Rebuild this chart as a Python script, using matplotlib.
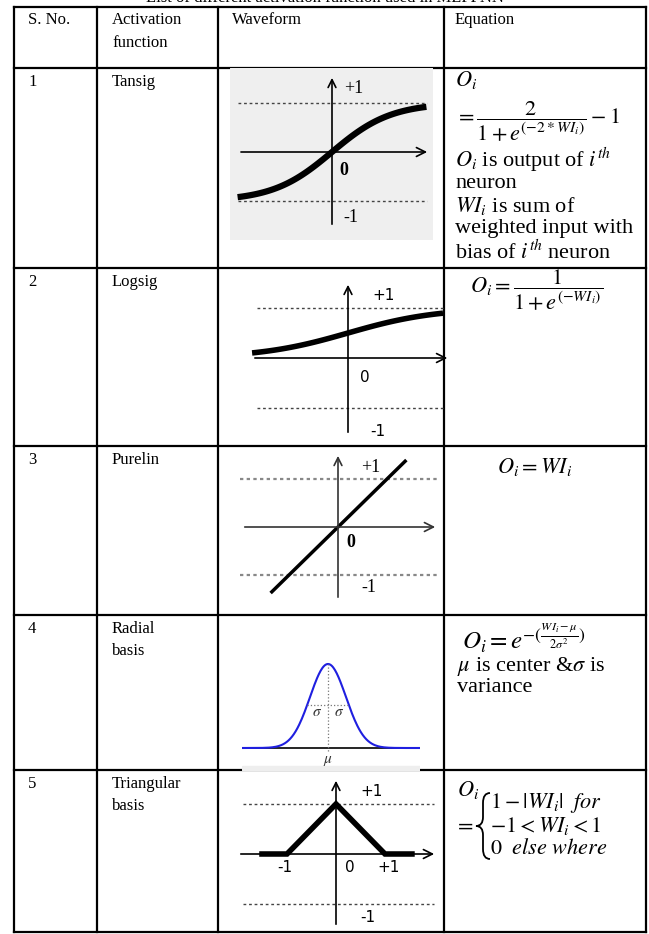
import numpy as np
import matplotlib
matplotlib.use("Agg")
import matplotlib.pyplot as plt
from matplotlib.patches import Rectangle, PathPatch
from matplotlib.path import Path

plt.rcParams['font.family'] = ['Liberation Serif', 'DejaVu Serif']
plt.rcParams['mathtext.fontset'] = 'stix'

W, H = 649, 934

## table content
title = "List of different activation function used in MLPFNN"
headers = ["S. No.", "Activation\nfunction", "Waveform", "Equation"]
serial = ["1", "2", "3", "4", "5"]
names = ["Tansig", "Logsig", "Purelin", "Radial\nbasis", "Triangular\nbasis"]

# grid (pixel positions)
col_x = [14, 97, 218, 444, 646]
row_y = [7, 68, 268, 446, 615, 770, 932]

# curve samples (x in function units) for each waveform
x_tansig = np.linspace(-1.6, 1.6, 80)
x_logsig = np.linspace(-2.18, 2.16, 80)
x_purelin = np.array([-1.35, 1.37])
x_radial = np.linspace(-4.78, 5.11, 200)
x_tri = np.array([-1.51, -1.0, 0.0, 1.0, 1.55])

fig = plt.figure(figsize=(W / 100, H / 100), dpi=100)
ax = fig.add_axes([0, 0, 1, 1])
ax.set_xlim(0, W)
ax.set_ylim(H, 0)
ax.axis('off')

FS = 12

# title, half cut off by the top edge
ax.text(W / 2, -2, title, ha='center', va='center', fontsize=FS, clip_on=False)

# grid lines
for x in col_x:
    ax.plot([x, x], [row_y[0], row_y[-1]], color='k', lw=1.6)
for y in row_y:
    ax.plot([col_x[0], col_x[-1]], [y, y], color='k', lw=1.6)

# header and first two columns
ax.text(28, 12, headers[0], fontsize=FS, va='top')
ax.text(112, 12, headers[1], fontsize=FS, va='top', linespacing=1.6)
ax.text(232, 12, headers[2], fontsize=FS, va='top')
ax.text(455, 12, headers[3], fontsize=FS, va='top')
for i in range(5):
    ax.text(28, row_y[i + 1] + 6, serial[i], fontsize=FS, va='top')
    ax.text(112, row_y[i + 1] + 6, names[i], fontsize=FS, va='top', linespacing=1.5)


def wave_ax(box, origin, sx, sy, face=None):
    x0, y0, x1, y1 = box
    ox, oy = origin
    a = fig.add_axes([x0 / W, 1 - y1 / H, (x1 - x0) / W, (y1 - y0) / H])
    a.set_xlim((x0 - ox) / sx, (x1 - ox) / sx)
    a.set_ylim((oy - y1) / sy, (oy - y0) / sy)
    a.set_axis_off()
    if face:
        a.add_patch(Rectangle((0, 0), 1, 1, transform=a.transAxes, color=face, zorder=0))
    return a


def axes_arrows(a, xl, xr, yb, yt, lw=1.2, color='k'):
    a.annotate('', xy=(xr, 0), xytext=(xl, 0),
               arrowprops=dict(arrowstyle='->', lw=lw, color=color, mutation_scale=16))
    a.annotate('', xy=(0, yt), xytext=(0, yb),
               arrowprops=dict(arrowstyle='->', lw=lw, color=color, mutation_scale=14))


LFS = 13
SFS = 11

# 1 tansig
a = wave_ax((230, 68, 433, 240), (332, 152), 59, 49, face='#efefef')
for lvl in (1, -1):
    a.plot([-1.59, 1.61], [lvl, lvl], ls=(0, (2, 2)), color='#444444', lw=1)
axes_arrows(a, -1.59, 1.66, -1.53, 1.57)
a.plot(x_tansig, np.tanh(x_tansig), color='k', lw=4.5, solid_capstyle='butt')
a.text(0.2, 1.3, "+1", fontsize=LFS, va='center')
a.text(0.12, -0.37, "0", fontsize=LFS, va='center', fontweight='bold')
a.text(0.2, -1.33, "-1", fontsize=LFS, va='center')

# 2 logsig
a = wave_ax((250, 272, 452, 442), (348, 358), 44, 50)
for lvl in (1, -1):
    a.plot([-2.07, 2.16], [lvl, lvl], ls=(0, (2, 2)), color='#444444', lw=1)
axes_arrows(a, -2.18, 2.32, -1.54, 1.52)
a.plot(x_logsig, 1 / (1 + np.exp(-x_logsig)), color='k', lw=4, solid_capstyle='butt')
a.text(0.55, 1.26, "+1", fontsize=SFS, va='center', family='DejaVu Sans')
a.text(0.28, -0.38, "0", fontsize=SFS, va='center', family='DejaVu Sans')
a.text(0.5, -1.48, "-1", fontsize=SFS, va='center', family='DejaVu Sans')

# 3 purelin
a = wave_ax((236, 450, 442, 612), (338, 527), 49, 48)
for lvl in (1, -1):
    a.plot([-2.0, 2.02], [lvl, lvl], ls=(0, (1.5, 1.5)), color='#888888', lw=1.6)
axes_arrows(a, -1.96, 2.04, -1.52, 1.54, color='#333333')
a.plot(x_purelin, x_purelin, color='k', lw=2.5)
a.text(0.48, 1.23, "+1", fontsize=LFS, va='center')
a.text(0.18, -0.33, "0", fontsize=LFS, va='center', fontweight='bold')
a.text(0.48, -1.25, "-1", fontsize=LFS, va='center')

# 4 radial basis
a = wave_ax((242, 652, 420, 771), (328, 748), 18, 84)
a.add_patch(Rectangle((-4.78, -0.26), 9.89, 0.045, color='#eeeeee', zorder=0))
a.plot([-4.78, 5.11], [0, 0], color='k', lw=1.2)
a.plot(x_radial, np.exp(-x_radial ** 2 / 2), color='#1f1fe0', lw=1.5)
a.plot([0, 0], [-0.03, 1.0], ls=':', color='#777777', lw=0.9)
a.plot([-1.16, 1.16], [0.51, 0.51], ls=':', color='#777777', lw=0.9)
a.text(-0.61, 0.42, r"$\sigma$", fontsize=11, ha='center', va='center', color='#333333')
a.text(0.61, 0.42, r"$\sigma$", fontsize=11, ha='center', va='center', color='#333333')
a.text(0, -0.15, r"$\mu$", fontsize=11, ha='center', va='center', color='#333333')

# 5 triangular basis
a = wave_ax((236, 774, 440, 930), (336, 854), 49, 50)
for lvl in (1, -1):
    a.plot([-1.9, 2.0], [lvl, lvl], ls=(0, (2, 2)), color='#444444', lw=1)
axes_arrows(a, -2.0, 2.06, -1.46, 1.52)
a.plot(x_tri, np.maximum(0, 1 - np.abs(x_tri)), color='k', lw=4, solid_joinstyle='miter')
a.text(0.5, 1.24, "+1", fontsize=SFS, va='center', family='DejaVu Sans')
a.text(-1.2, -0.28, "-1", fontsize=SFS, va='center', family='DejaVu Sans')
a.text(0.18, -0.28, "0", fontsize=SFS, va='center', family='DejaVu Sans')
a.text(0.85, -0.28, "+1", fontsize=SFS, va='center', family='DejaVu Sans')
a.text(0.5, -1.28, "-1", fontsize=SFS, va='center', family='DejaVu Sans')

# equations column
EFS = 16
ex = 455
ax.text(ex, 80, r"$O_i$", fontsize=EFS, va='center')
ax.text(ex, 122, r"$=\dfrac{2}{1+e^{(-2*WI_i)}}-1$", fontsize=EFS, va='center')
ax.text(ex, 160, r"$O_i$ is output of $i^{th}$", fontsize=EFS, va='center')
ax.text(ex, 183, "neuron", fontsize=EFS, va='center')
ax.text(ex, 206, r"$WI_i$ is sum of", fontsize=EFS, va='center')
ax.text(ex, 229, "weighted input with", fontsize=EFS, va='center')
ax.text(ex, 252, r"bias of $i^{th}$ neuron", fontsize=EFS, va='center')

ax.text(470, 290, r"$O_i=\dfrac{1}{1+e^{(-WI_i)}}$", fontsize=EFS, va='center')
ax.text(497, 467, r"$O_i=WI_i$", fontsize=EFS, va='center')

ax.text(462, 638, r"$O_i=e^{-(\frac{WI_i-\mu}{2\sigma^2})}$", fontsize=18, va='center')
ax.text(ex + 2, 666, r"$\mu$ is center &$\sigma$ is", fontsize=EFS, va='center')
ax.text(ex + 2, 688, "variance", fontsize=EFS, va='center')

ax.text(ex + 2, 790, r"$O_i$", fontsize=EFS, va='center')
ax.text(ex - 1, 826, r"$=$", fontsize=EFS, va='center')
# curly brace of the piecewise definition
brace = Path([(490, 793), (483, 793), (483, 803), (483, 817), (483, 826), (476, 826),
              (483, 826), (483, 835), (483, 849), (483, 859), (490, 859)],
             [Path.MOVETO, Path.CURVE3, Path.CURVE3, Path.LINETO, Path.CURVE3, Path.CURVE3,
              Path.CURVE3, Path.CURVE3, Path.LINETO, Path.CURVE3, Path.CURVE3])
ax.add_patch(PathPatch(brace, fill=False, lw=1.3, color='k'))
ax.text(490, 803, r"$1-|WI_i|\ \ for$", fontsize=EFS, va='center')
ax.text(490, 826, r"$-1<WI_i<1$", fontsize=EFS, va='center')
ax.text(490, 849, r"$0\ \ else\ where$", fontsize=EFS, va='center')

fig.savefig("out.png", dpi=100)
